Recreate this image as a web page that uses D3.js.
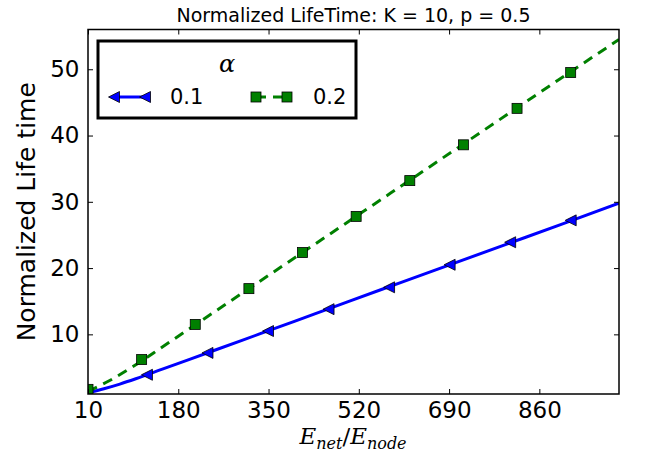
<!DOCTYPE html>
<html>
<head>
<meta charset="utf-8">
<script src="https://cdn.jsdelivr.net/npm/d3@7"></script>
<style>
  body { margin: 0; background: #fff; }
  svg { display: block; }
  .tick text { font-family: "DejaVu Sans", sans-serif; fill: #000; }
</style>
</head>
<body>
<svg id="chart" width="648" height="463"></svg>
<script>
// values
const xTicks = [10, 180, 350, 520, 690, 860];
const yTicks = [10, 20, 30, 40, 50];

// alpha = 0.1 : analytic curve + simulated markers
const lineX01 = [10, 40, 70, 100, 150, 200, 300, 400, 500, 600, 700, 800, 900, 1010];
const lineY01 = [1.2, 1.8, 2.5, 3.3, 4.75, 6.2, 9.1, 12.0, 14.95, 17.85, 20.75, 23.65, 26.55, 29.8];
const markX01 = [121, 235, 349, 463, 577, 691, 805, 919];
const markY01 = [3.9, 7.2, 10.5, 13.8, 17.1, 20.5, 23.9, 27.2];

// alpha = 0.2
const lineX02 = [10, 50, 100, 150, 200, 300, 400, 500, 600, 700, 800, 900, 1010];
const lineY02 = [1.4, 3.0, 5.4, 8.1, 10.8, 16.2, 21.6, 27.0, 32.4, 37.8, 43.2, 48.6, 54.5];
const markX02 = [10, 111, 212, 313, 414, 515, 616, 717, 818, 919];
const markY02 = [1.7, 6.2, 11.5, 16.9, 22.35, 27.8, 33.2, 38.6, 44.1, 49.5];

const seriesNames = ["0.1", "0.2"];

const svg = d3.select("#chart");
const mLeft = 88, mRight = 619, mTop = 29.5, mBottom = 394;

const x = d3.scaleLinear().domain([10, 1010]).range([mLeft, mRight]);
const y = d3.scaleLinear().domain([1, 56]).range([mBottom, mTop]);

const zip = (a, b) => a.map((v, i) => [v, b[i]]);

// title
svg.append("text")
  .attr("x", (mLeft + mRight) / 2).attr("y", 21.5)
  .attr("text-anchor", "middle")
  .style("font-family", "DejaVu Sans, sans-serif")
  .style("font-size", "19px")
  .text("Normalized LifeTime: K = 10, p = 0.5");

// lines and markers, clipped to the frame
svg.append("clipPath").attr("id", "clip")
  .append("rect").attr("x", mLeft).attr("y", mTop)
  .attr("width", mRight - mLeft).attr("height", mBottom - mTop);

const plotG = svg.append("g").attr("clip-path", "url(#clip)");
const line = d3.line().x(d => x(d[0])).y(d => y(d[1])).curve(d3.curveMonotoneX);

const triPath = "M-5.5,0L5.5,-5.5L5.5,5.5Z";

plotG.append("path")
  .datum(zip(lineX01, lineY01))
  .attr("d", line)
  .attr("fill", "none").attr("stroke", "#0000ff").attr("stroke-width", 3);

plotG.selectAll(".tri").data(zip(markX01, markY01))
  .enter().append("path")
  .attr("class", "tri")
  .attr("d", triPath)
  .attr("transform", d => `translate(${x(d[0])},${y(d[1])})`)
  .attr("fill", "#0000ff").attr("stroke", "#000").attr("stroke-width", 0.8);

plotG.append("path")
  .datum(zip(lineX02, lineY02))
  .attr("d", line)
  .attr("fill", "none").attr("stroke", "#008000").attr("stroke-width", 3)
  .attr("stroke-dasharray", "10,7");

plotG.selectAll(".sq").data(zip(markX02, markY02))
  .enter().append("rect")
  .attr("class", "sq")
  .attr("x", d => x(d[0]) - 5).attr("y", d => y(d[1]) - 5)
  .attr("width", 10).attr("height", 10)
  .attr("fill", "#008000").attr("stroke", "#000").attr("stroke-width", 0.8);

// axes, ticks pointing inward on all four sides
const tickFont = "23px";
const gx = svg.append("g").attr("transform", `translate(0,${mBottom})`)
  .call(d3.axisBottom(x).tickValues(xTicks).tickSizeInner(-5).tickSizeOuter(0).tickPadding(8));
const gxt = svg.append("g").attr("transform", `translate(0,${mTop})`)
  .call(d3.axisTop(x).tickValues(xTicks).tickSizeInner(-5).tickSizeOuter(0).tickFormat(""));
const gy = svg.append("g").attr("transform", `translate(${mLeft},0)`)
  .call(d3.axisLeft(y).tickValues(yTicks).tickSizeInner(-5).tickSizeOuter(0).tickPadding(8.5));
const gyr = svg.append("g").attr("transform", `translate(${mRight},0)`)
  .call(d3.axisRight(y).tickValues(yTicks).tickSizeInner(-5).tickSizeOuter(0).tickFormat(""));

[gx, gxt, gy, gyr].forEach(g => {
  g.select(".domain").remove();
  g.selectAll(".tick line").attr("stroke", "#000").attr("stroke-width", 1);
  g.selectAll(".tick text").style("font-size", tickFont);
});

svg.append("rect")
  .attr("x", mLeft).attr("y", mTop)
  .attr("width", mRight - mLeft).attr("height", mBottom - mTop)
  .attr("fill", "none").attr("stroke", "#000").attr("stroke-width", 1.5);

// axis labels
svg.append("text")
  .attr("transform", `translate(35,${(mTop + mBottom) / 2}) rotate(-90)`)
  .attr("text-anchor", "middle")
  .style("font-family", "DejaVu Sans, sans-serif")
  .style("font-size", "25px")
  .text("Normalized Life time");

const xl = svg.append("text")
  .attr("x", 353).attr("y", 444)
  .attr("text-anchor", "middle")
  .style("font-family", "DejaVu Serif, serif")
  .style("font-style", "italic")
  .style("font-size", "23px");
xl.append("tspan").text("E");
xl.append("tspan").attr("dy", 5).style("font-size", "16px").text("net");
xl.append("tspan").attr("dy", -5).style("font-style", "normal").text("/");
xl.append("tspan").text("E");
xl.append("tspan").attr("dy", 5).style("font-size", "16px").text("node");

// legend
const leg = svg.append("g");
leg.append("rect")
  .attr("x", 98).attr("y", 41).attr("width", 258).attr("height", 77)
  .attr("fill", "#fff").attr("stroke", "#000").attr("stroke-width", 3);
leg.append("text")
  .attr("x", 227).attr("y", 72)
  .attr("text-anchor", "middle")
  .style("font-family", "DejaVu Serif, serif")
  .style("font-style", "italic")
  .style("font-size", "24px")
  .text("α");

const ly = 97;
leg.append("line").attr("x1", 112).attr("x2", 148).attr("y1", ly).attr("y2", ly)
  .attr("stroke", "#0000ff").attr("stroke-width", 3);
leg.selectAll(".ltri").data([114, 145]).enter().append("path")
  .attr("d", triPath)
  .attr("transform", d => `translate(${d},${ly})`)
  .attr("fill", "#0000ff").attr("stroke", "#000").attr("stroke-width", 0.8);
leg.append("line").attr("x1", 256).attr("x2", 287).attr("y1", ly).attr("y2", ly)
  .attr("stroke", "#008000").attr("stroke-width", 3).attr("stroke-dasharray", "10,7");
leg.selectAll(".lsq").data([256, 287]).enter().append("rect")
  .attr("x", d => d - 5).attr("y", ly - 5).attr("width", 10).attr("height", 10)
  .attr("fill", "#008000").attr("stroke", "#000").attr("stroke-width", 0.8);
leg.selectAll(".ltxt").data(seriesNames).enter().append("text")
  .attr("x", (d, i) => i === 0 ? 170 : 313).attr("y", 104)
  .style("font-family", "DejaVu Sans, sans-serif")
  .style("font-size", "21px")
  .text(d => d);
</script>
</body>
</html>
